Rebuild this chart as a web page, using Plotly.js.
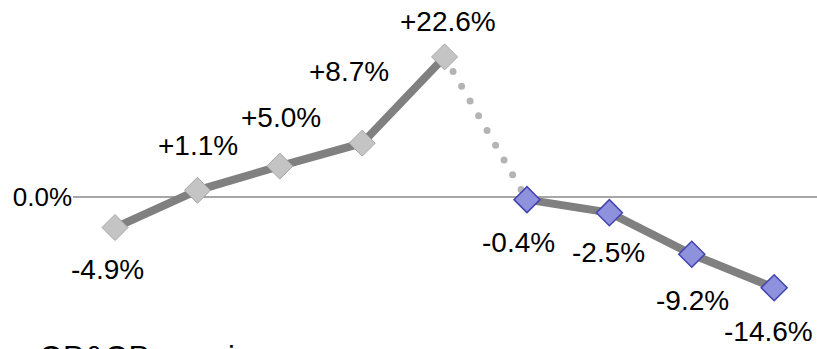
<!DOCTYPE html>
<html>
<head>
<meta charset="utf-8">
<script src="https://cdn.plot.ly/plotly-3.0.1.min.js"></script>
<style>
  html, body { margin: 0; padding: 0; background: #fff; }
  #chart { width: 817px; height: 349px; }
</style>
</head>
<body>
<div id="chart"></div>
<script>
// Period-over-period change, first run of periods (grey) then the later run (blue)
const periodsEarly = [0, 1, 2, 3, 4];
const changeEarly = [-4.9, 1.1, 5.0, 8.7, 22.6];
const periodsLate = [5, 6, 7, 8];
const changeLate = [-0.4, -2.5, -9.2, -14.6];
const yTickValues = [0];
const footerText = 'OP&OP margin';

// label offsets (pixels) from each point, in period order
const labelShiftX = [-8, 1, 1, -13, 3, -8, -1, 1, -6];
const labelShiftY = [-42, 45, 49, 72, 35, -43, -40, -46, -44];

const fmt = v => (v > 0 ? '+' : '') + v.toFixed(1) + '%';

const allPeriods = periodsEarly.concat(periodsLate);
const allChange = changeEarly.concat(changeLate);

const lineGrey = '#808080';

const traces = [
  // dotted bridge between the two runs
  {
    x: [periodsEarly[periodsEarly.length - 1], periodsLate[0]],
    y: [changeEarly[changeEarly.length - 1], changeLate[0]],
    mode: 'lines',
    line: { color: '#b4b4b4', width: 7, dash: '0px,17px' },
    hoverinfo: 'skip'
  },
  {
    x: periodsEarly,
    y: changeEarly,
    mode: 'lines+markers',
    line: { color: lineGrey, width: 8 },
    marker: { symbol: 'diamond', size: 20, color: '#c4c4c4',
              line: { color: '#a6a6a6', width: 1 } }
  },
  {
    x: periodsLate,
    y: changeLate,
    mode: 'lines+markers',
    line: { color: lineGrey, width: 8 },
    marker: { symbol: 'diamond', size: 20, color: '#8e91dc',
              line: { color: '#4343b0', width: 1.5 } }
  }
];

const annotations = allPeriods.map((p, i) => ({
  x: p, y: allChange[i], xref: 'x', yref: 'y',
  text: fmt(allChange[i]),
  showarrow: false,
  xanchor: 'center', yanchor: 'middle',
  xshift: labelShiftX[i], yshift: labelShiftY[i],
  font: { family: 'Liberation Sans, Arial, sans-serif', size: 28, color: '#000' }
}));

// footer caption, running off the bottom edge
annotations.push({
  x: -0.048, y: -0.024, xref: 'paper', yref: 'paper',
  text: footerText, showarrow: false,
  xanchor: 'left', yanchor: 'middle',
  font: { family: 'Liberation Sans, Arial, sans-serif', size: 31, color: '#000' }
});

const layout = {
  width: 817, height: 349,
  margin: { l: 73, r: 0, t: 0, b: 0, pad: 0 },
  paper_bgcolor: '#fff', plot_bgcolor: '#fff',
  showlegend: false,
  xaxis: { visible: false, range: [-0.51, 8.52], fixedrange: true },
  yaxis: {
    range: [-24.47, 31.77],
    tickvals: yTickValues,
    ticktext: yTickValues.map(v => v.toFixed(1) + '%'),
    ticks: '', showgrid: false, showline: false,
    zeroline: true, zerolinecolor: '#a6a6a6', zerolinewidth: 2,
    tickfont: { family: 'Liberation Sans, Arial, sans-serif', size: 26, color: '#000' },
    fixedrange: true
  },
  annotations: annotations
};

Plotly.newPlot('chart', traces, layout, { staticPlot: true }).then(() => {
  // round caps turn the zero-length dashes into dots
  const bridge = document.querySelectorAll('.scatterlayer .trace')[0];
  if (bridge) {
    bridge.querySelectorAll('path.js-line').forEach(p => {
      p.style.strokeLinecap = 'round';
    });
  }
});
</script>
</body>
</html>
